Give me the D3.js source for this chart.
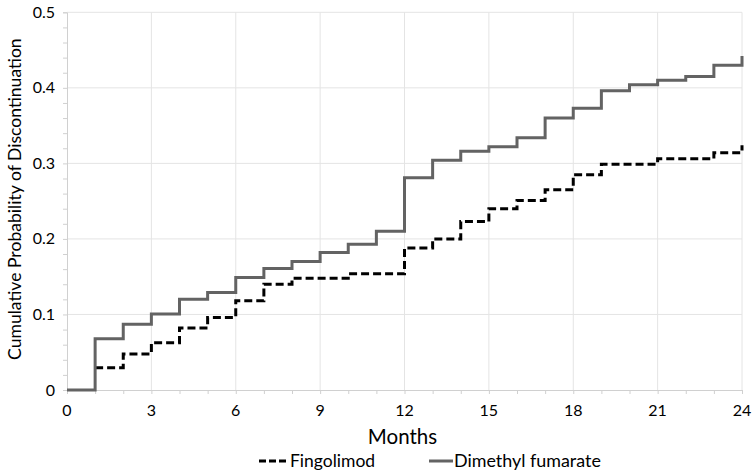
<!DOCTYPE html>
<html>
<head>
<meta charset="utf-8">
<script src="https://cdn.jsdelivr.net/npm/d3@7"></script>
<style>
  html, body { margin: 0; padding: 0; background: #fff; }
  svg { display: block; }
  text { font-family: Lato, "Open Sans", sans-serif; fill: #000; }
</style>
</head>
<body>
<svg id="chart" width="755" height="476"></svg>
<script>
// ---- data ----
const months = d3.range(0, 25);
const fingolimod = [0, 0.0295, 0.0476, 0.0626, 0.082, 0.096, 0.118, 0.140, 0.148, 0.148, 0.154, 0.154,
  0.188, 0.200, 0.223, 0.240, 0.251, 0.265, 0.285, 0.299, 0.299, 0.306, 0.306, 0.314, 0.324];
const dimethylFumarate = [0, 0.068, 0.087, 0.1005, 0.120, 0.129, 0.149, 0.161, 0.170, 0.182, 0.193, 0.210,
  0.281, 0.304, 0.316, 0.322, 0.334, 0.360, 0.373, 0.396, 0.404, 0.410, 0.415, 0.430, 0.442];
const xTicks = [0, 3, 6, 9, 12, 15, 18, 21, 24];
const yTicks = [0, 0.1, 0.2, 0.3, 0.4, 0.5];
const seriesNames = ["Fingolimod", "Dimethyl fumarate"];

// ---- layout ----
const svg = d3.select("#chart");
const mLeft = 67, mRight = 742, mTop = 12.3, mBottom = 390;
const x = d3.scaleLinear().domain([0, 24]).range([mLeft, mRight]);
const y = d3.scaleLinear().domain([0, 0.5]).range([mBottom, mTop]);

const gridColor = "#e4e4e4";
const axisColor = "#d0d0d0";

// gridlines
svg.append("g").selectAll("line.v").data(xTicks.filter(d => d > 0)).join("line")
  .attr("x1", d => x(d)).attr("x2", d => x(d)).attr("y1", y(0.5)).attr("y2", y(0))
  .attr("stroke", gridColor).attr("stroke-width", 1);
svg.append("g").selectAll("line.h").data(yTicks.filter(d => d > 0)).join("line")
  .attr("x1", x(0)).attr("x2", x(24)).attr("y1", d => y(d)).attr("y2", d => y(d))
  .attr("stroke", gridColor).attr("stroke-width", 1);

// x axis with monthly minor ticks
const xAxis = d3.axisBottom(x).tickValues(months).tickSize(4).tickFormat("");
const gx = svg.append("g").attr("transform", `translate(0,${y(0)})`).call(xAxis);
gx.select(".domain").attr("stroke", axisColor);
gx.selectAll(".tick line").attr("stroke", axisColor);
svg.append("g").selectAll("text").data(xTicks).join("text")
  .attr("x", d => x(d)).attr("y", 416).attr("text-anchor", "middle")
  .style("font-size", "16px").text(d => d);

// y axis with minor ticks
const yAxis = d3.axisLeft(y).tickValues(d3.range(0, 0.5001, 0.02)).tickSize(4).tickFormat("");
const gy = svg.append("g").attr("transform", `translate(${x(0)},0)`).call(yAxis);
gy.select(".domain").attr("stroke", axisColor);
gy.selectAll(".tick line").attr("stroke", axisColor);
svg.append("g").selectAll("text").data(yTicks).join("text")
  .attr("x", 55).attr("y", d => y(d) + 5.5).attr("text-anchor", "end")
  .style("font-size", "16px").text(d => d === 0 ? "0" : d3.format(".1f")(d));

// axis titles
svg.append("text").attr("x", x(12) - 2).attr("y", 444).attr("text-anchor", "middle")
  .style("font-size", "20.5px").text("Months");
svg.append("text").attr("transform", `translate(21,${(mTop + mBottom) / 2 - 2}) rotate(-90)`)
  .attr("text-anchor", "middle").style("font-size", "17.6px")
  .text("Cumulative Probability of Discontinuation");

// step lines
const line = d3.line().curve(d3.curveStepAfter).x(d => x(d[0])).y(d => y(d[1]));
svg.append("path").datum(months.map((m, i) => [m, fingolimod[i]]).slice(1))
  .attr("d", line).attr("fill", "none").attr("stroke", "#000")
  .attr("stroke-width", 3).attr("stroke-dasharray", "8,4");
svg.append("path").datum(months.map((m, i) => [m, dimethylFumarate[i]]))
  .attr("d", line).attr("fill", "none").attr("stroke", "#636363")
  .attr("stroke-width", 3);

// legend
const legend = svg.append("g");
const lg1 = legend.append("g").attr("transform", "translate(259,461)");
lg1.append("line").attr("x1", 0).attr("x2", 30).attr("y1", 0).attr("y2", 0)
  .attr("stroke", "#000").attr("stroke-width", 3).attr("stroke-dasharray", "7,3");
lg1.append("text").attr("x", 31).attr("y", 6).style("font-size", "17.5px").text(seriesNames[0]);
const lg2 = legend.append("g").attr("transform", "translate(429,461)");
lg2.append("line").attr("x1", 0).attr("x2", 24).attr("y1", 0).attr("y2", 0)
  .attr("stroke", "#636363").attr("stroke-width", 3);
lg2.append("text").attr("x", 25).attr("y", 6).style("font-size", "17.9px").text(seriesNames[1]);
</script>
</body>
</html>
